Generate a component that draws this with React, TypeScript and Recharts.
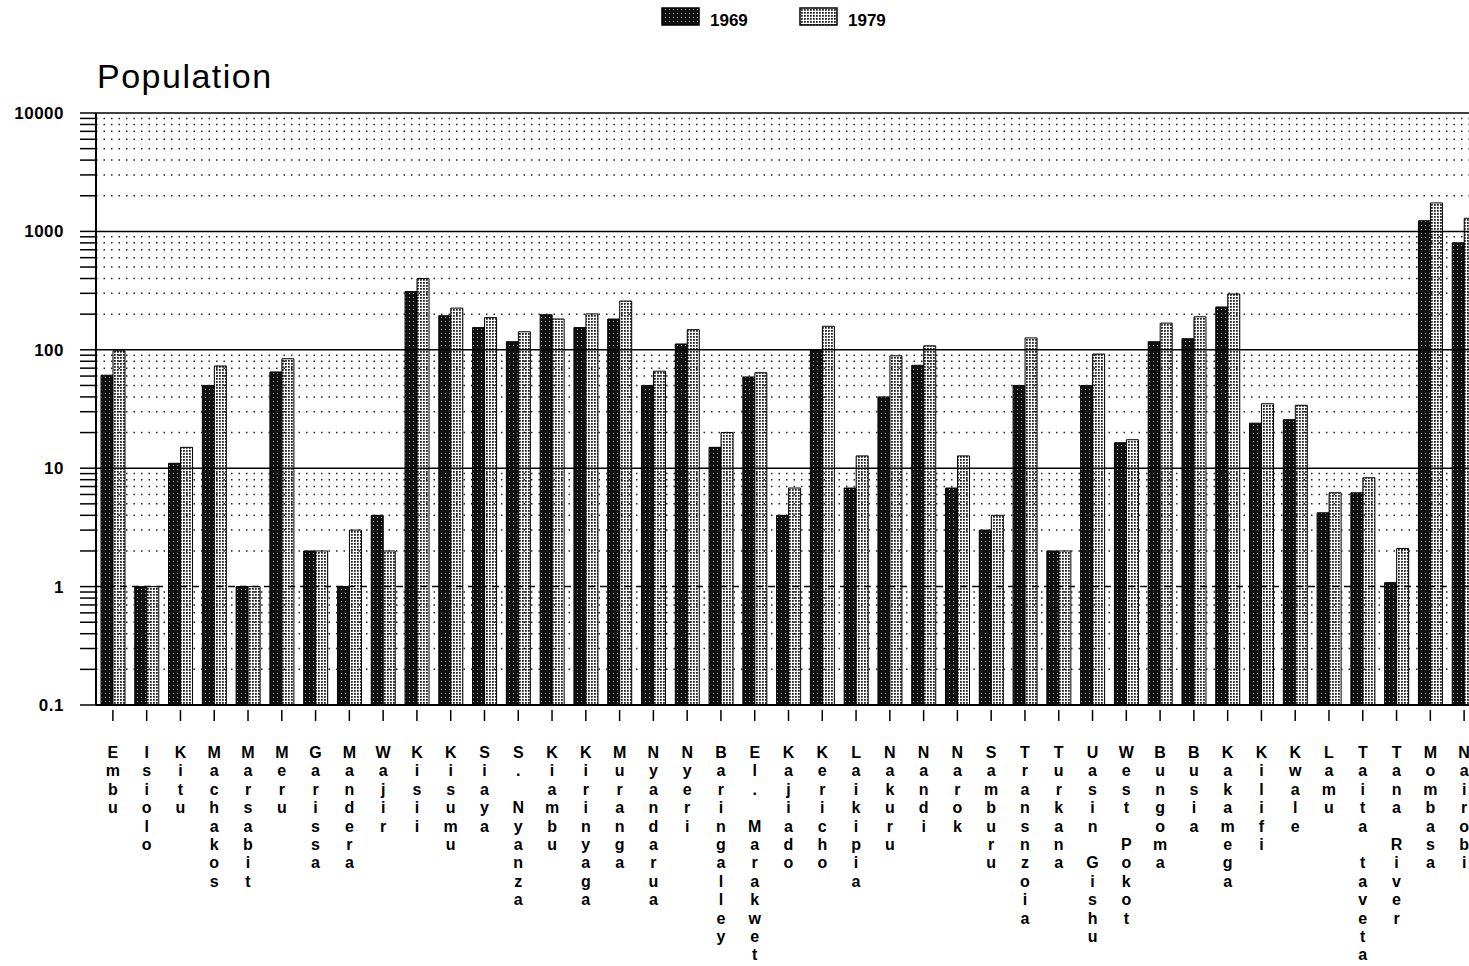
import React from "react";
import { BarChart, Bar, XAxis, YAxis, ReferenceLine } from "recharts";

// districts in the order they appear on the x axis
const districts = [
  "Embu", "Isiolo", "Kitu", "Machakos", "Marsabit", "Meru", "Garissa", "Mandera", "Wajir",
  "Kisii", "Kisumu", "Siaya", "S. Nyanza", "Kiambu", "Kirinyaga", "Muranga", "Nyandarua", "Nyeri",
  "Baringalley", "El. Marakwet", "Kajiado", "Kericho", "Laikipia", "Nakuru", "Nandi", "Narok",
  "Samburu", "Transnzoia", "Turkana", "Uasin Gishu", "West Pokot", "Bungoma", "Busia", "Kakamega",
  "Kilifi", "Kwale", "Lamu", "Taita taveta", "Tana River", "Mombasa", "Nairobi",
];

const pop1969 = [
  61, 1, 11, 50, 1, 65, 2, 1, 4,
  310, 194, 154, 117, 198, 154, 182, 50, 112,
  15, 59, 4, 100, 6.8, 40, 74, 6.8,
  3, 50, 2, 50, 16.4, 117, 124, 230,
  24, 25.7, 4.2, 6.2, 1.08, 1230, 800,
];

const pop1979 = [
  98, 1, 15, 73, 1, 84, 2, 3, 2,
  400, 225, 187, 142, 182, 201, 258, 66, 148,
  20, 64, 6.8, 158, 12.7, 89, 108, 12.7,
  4, 126, 2, 92, 17.4, 168, 190, 296,
  35, 34, 6.2, 8.3, 2.1, 1740, 1290,
];

const majorTicks = [0.1, 1, 10, 100, 1000, 10000];
const majorLabels = ["0.1", "1", "10", "100", "1000", "10000"];
const minorSteps = [2, 3, 4, 5, 6, 7, 8, 9];
const minorTicks = majorTicks.slice(0, -1).flatMap((d) => minorSteps.map((m) => m * d));

const data = districts.map((name, i) => ({ name, y1969: pop1969[i], y1979: pop1979[i] }));

const FONT = '"Liberation Sans", Arial, Helvetica, sans-serif';

const LetterTick = (props: any) => {
  const { x, y, payload } = props;
  const letters = String(payload.value).split("");
  return (
    <g>
      <line x1={x} x2={x} y1={y + 5} y2={y + 16} stroke="#000" strokeWidth={1.5} />
      {letters.map((ch, i) => (
        <text
          key={i}
          x={x}
          y={y + 53 + i * 18.4}
          textAnchor="middle"
          fontSize={16}
          fontWeight="bold"
          fontFamily={FONT}
          fill="#000"
        >
          {ch}
        </text>
      ))}
    </g>
  );
};

const Patterns = ({ suffix }: { suffix: string }) => (
  <defs>
    <pattern id={"p69" + suffix} width="4" height="4" patternUnits="userSpaceOnUse">
      <rect width="4" height="4" fill="#111" />
      <rect x="1" y="1" width="1" height="1" fill="#aaa" />
    </pattern>
    <pattern id={"p79" + suffix} width="3" height="3" patternUnits="userSpaceOnUse">
      <rect width="3" height="3" fill="#fff" />
      <rect width="1.8" height="1.8" fill="#222" />
    </pattern>
  </defs>
);

export default function App() {
  return (
    <div
      style={{
        position: "absolute",
        left: 0,
        top: 0,
        width: 1469,
        height: 966,
        overflow: "hidden",
        background: "#fff",
        fontFamily: FONT,
      }}
    >
      {/* title and legend */}
      <svg width={1469} height={110} style={{ position: "absolute", left: 0, top: 0 }}>
        <Patterns suffix="L" />
        <rect x={662} y={8} width={37} height={17} fill="url(#p69L)" stroke="#000" strokeWidth={1.5} />
        <text x={710} y={26} fontSize={17} fontWeight="bold" fontFamily={FONT}>1969</text>
        <rect x={800} y={8} width={37} height={17} fill="url(#p79L)" stroke="#000" strokeWidth={1.5} />
        <text x={848} y={26} fontSize={17} fontWeight="bold" fontFamily={FONT}>1979</text>
        <text x={97} y={88} fontSize={34} letterSpacing={1.5} fontFamily={FONT}>Population</text>
      </svg>

      <BarChart
        width={1490}
        height={966}
        data={data}
        margin={{ top: 113, right: 9, bottom: 6, left: 0 }}
        barGap={0}
        barSize={12}
      >
        <Patterns suffix="" />
        <XAxis
          dataKey="name"
          interval={0}
          height={255}
          tickSize={0}
          tickMargin={0}
          tick={<LetterTick />}
          axisLine={{ stroke: "#000", strokeWidth: 2 }}
        />
        <YAxis
          scale="log"
          domain={[0.1, 10000]}
          allowDataOverflow
          interval={0}
          width={96}
          ticks={[...majorTicks, ...minorTicks]}
          tickFormatter={(v: number) => {
            const k = majorTicks.indexOf(v);
            return k >= 0 ? majorLabels[k] : "";
          }}
          tickSize={16}
          tickMargin={16}
          tick={{ fill: "#000", fontSize: 17, fontWeight: "bold", fontFamily: FONT, letterSpacing: 0.5 }}
          tickLine={{ stroke: "#000", strokeWidth: 1.5 }}
          axisLine={{ stroke: "#000", strokeWidth: 2 }}
        />
        {minorTicks.map((v) => (
          <ReferenceLine key={"m" + v} y={v} stroke="#222" strokeWidth={1.5} strokeDasharray="1.5 6" />
        ))}
        {majorTicks.slice(1).map((v) => (
          <ReferenceLine
            key={"M" + v}
            y={v}
            stroke="#000"
            strokeWidth={1.5}
            strokeDasharray={v === 1 ? "7 5" : undefined}
          />
        ))}
        <Bar dataKey="y1969" fill="url(#p69)" stroke="#000" strokeWidth={1} isAnimationActive={false} />
        <Bar dataKey="y1979" fill="url(#p79)" stroke="#000" strokeWidth={1} isAnimationActive={false} />
      </BarChart>
    </div>
  );
}
